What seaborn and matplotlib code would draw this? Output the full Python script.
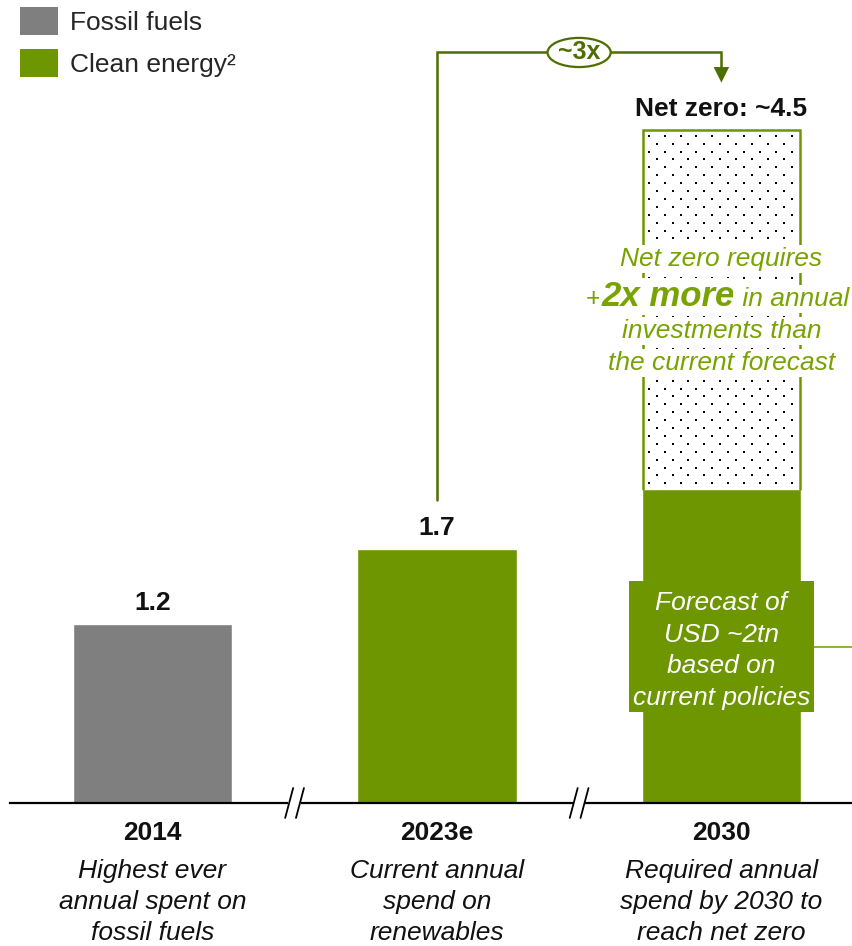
import matplotlib
matplotlib.use("Agg")
import matplotlib.pyplot as plt
import matplotlib.transforms as mtransforms
from matplotlib.patches import Patch, Rectangle, Ellipse, FancyArrowPatch
import numpy as np
import seaborn as sns
import pandas as pd

# ---- data -------------------------------------------------------------
years = ["2014", "2023e", "2030"]
series = ["Fossil fuels", "Clean energy", "Clean energy"]
spend = [1.2, 1.7, 2.1]            # USD tn per year (forecast for 2030)
net_zero_2030 = 4.5                # USD tn per year required for net zero
value_labels = ["1.2", "1.7", "Net zero: ~4.5"]
descriptions = [
    "Highest ever\nannual spent on\nfossil fuels",
    "Current annual\nspend on\nrenewables",
    "Required annual\nspend by 2030 to\nreach net zero",
]
multiplier_label = "~3x"
forecast_note = "Forecast of\nUSD ~2tn\nbased on\ncurrent policies"

# ---- style ------------------------------------------------------------
GRAY = "#7F7F7F"
GREEN = "#6E9600"
TEXT_GREEN = "#78A300"
OLIVE = "#4F6E00"
LIGHT_GREEN = "#8DB33A"
FS = 19
BAR_W = 0.56

sns.set_theme(style="white")
plt.rcParams["font.family"] = ["Liberation Sans", "DejaVu Sans"]

fig = plt.figure(figsize=(8.52, 9.46), dpi=100)
W, H = 852, 946
ax = fig.add_axes([10 / W, 143 / H, 842 / W, 803 / H])

df = pd.DataFrame({"year": years, "spend": spend, "series": series})
sns.barplot(data=df, x="year", y="spend", hue="series",
            palette={"Fossil fuels": GRAY, "Clean energy": GREEN},
            width=BAR_W, dodge=False, legend=False, ax=ax, saturation=1)

XLIM, YLIM = (-0.5, 2.459), (0, 5.371)
ax.set_xlim(*XLIM)
ax.set_ylim(*YLIM)
for s in ["top", "right", "left"]:
    ax.spines[s].set_visible(False)
ax.spines["bottom"].set_color("black")
ax.spines["bottom"].set_linewidth(1.6)
ax.set_yticks([])
ax.set_ylabel("")
ax.set_xlabel("")
ax.tick_params(axis="x", length=0, pad=13)
ax.set_xticks(range(len(years)))
ax.set_xticklabels(years, fontsize=FS, fontweight="bold", color="#111111")

# dotted gap between forecast and net-zero requirement
gap_bottom = spend[2]
gap_height = net_zero_2030 - spend[2]
gap_bar = ax.bar(2, gap_height, bottom=gap_bottom, width=BAR_W, color="white",
                 linewidth=0, zorder=2)[0]

# staggered dot texture snapped to whole screen pixels inside the gap bar
x_lo, x_hi = 2 - BAR_W / 2, 2 + BAR_W / 2
(px0, py0), (px1, py1) = ax.transData.transform([(x_lo, gap_bottom),
                                                 (x_hi, net_zero_2030)])
row_step, col_step = 7.9, 15.9
dots = []
for r, py in enumerate(np.arange(py1 - 5.5, py0, -row_step)):
    start = px0 + 7 + (0 if r % 2 == 0 else col_step / 2)
    for px in np.arange(start, px1 - 2, col_step):
        dots.append((round(px), round(py)))
dots_data = ax.transData.inverted().transform(np.array(dots, dtype=float))
ax.scatter(dots_data[:, 0], dots_data[:, 1], marker="s", s=(2 * 72 / 100) ** 2,
           c="black", linewidths=0, zorder=2.5, clip_path=gap_bar)

ax.plot([x_lo + 0.004, x_lo + 0.004, x_hi - 0.004, x_hi - 0.004],
        [gap_bottom, net_zero_2030, net_zero_2030, gap_bottom],
        color=GREEN, lw=1.8, zorder=3, solid_joinstyle="miter")

# value labels above bars
tops = [spend[0], spend[1], net_zero_2030]
for i, (t, lab) in enumerate(zip(tops, value_labels)):
    ax.annotate(lab, xy=(i, t), xytext=(0, 9), textcoords="offset pixels",
                ha="center", va="bottom", fontsize=FS, fontweight="bold",
                color="#111111")

# italic descriptions under the year labels
for i, d in enumerate(descriptions):
    ax.annotate(d, xy=(i, 0), xytext=(0, -56), textcoords="offset pixels",
                ha="center", va="top", fontsize=FS, fontstyle="italic",
                color="#111111", linespacing=1.36, annotation_clip=False)

# axis break marks
for xb in [0.5, 1.5]:
    ax.add_patch(Rectangle((xb - 0.022, -0.03), 0.044, 0.06, color="white",
                           zorder=5, clip_on=False, lw=0))
    for dx in [-0.019, 0.019]:
        ax.plot([xb + dx - 0.014, xb + dx + 0.014], [-0.1, 0.1], color="black",
                lw=1.3, zorder=6, clip_on=False)

# ~3x connector from 2023e to the 2030 net-zero bar
y_conn = 5.02
ax.plot([1, 1, 2, 2], [2.03, y_conn, y_conn, 4.90], color=OLIVE, lw=1.8,
        zorder=4, solid_joinstyle="miter")
ax.add_patch(FancyArrowPatch((2, 4.93), (2, 4.80), arrowstyle="-|>",
                             mutation_scale=28, color=OLIVE, lw=0, zorder=4))
ax.add_patch(Ellipse((1.5, y_conn), 0.222, 0.195, facecolor="white",
                     edgecolor=OLIVE, lw=1.6, zorder=5))
ax.text(1.5, y_conn, multiplier_label, ha="center", va="center",
        fontsize=18, fontweight="bold", color=OLIVE, zorder=6)

# forecast call-out box on the 2030 bar
ax.add_patch(Rectangle((2 - 0.326, 0.609), 0.652, 0.876, facecolor=GREEN,
                       edgecolor="none", zorder=4))
ax.plot([2 + 0.326, 2.47], [1.043, 1.043], color=LIGHT_GREEN, lw=1.4,
        zorder=3, clip_on=False)
ax.text(2, 1.02, forecast_note, ha="center", va="center", fontsize=FS,
        fontstyle="italic", color="white", linespacing=1.39, zorder=5)

# net-zero note inside the dotted part
note_kw = dict(ha="center", va="center", fontsize=FS, fontstyle="italic",
               color=TEXT_GREEN, zorder=6,
               bbox=dict(facecolor="white", edgecolor="none", pad=1.5))
ax.text(2, 3.637, "Net zero requires", **note_kw)
ax.text(2, 3.157, "investments than", **note_kw)
ax.text(2, 2.943, "the current forecast", **note_kw)

# mixed-style line: "+2x more in annual"
pieces = [("+", dict(fontsize=FS, fontstyle="normal", fontweight="normal")),
          ("2x more", dict(fontsize=25, fontstyle="italic", fontweight="bold")),
          (" in annual", dict(fontsize=FS, fontstyle="italic", fontweight="normal"))]
fig.canvas.draw()
renderer = fig.canvas.get_renderer()
objs = []
for txt, kw in pieces:
    t = ax.text(2, 3.385, txt, ha="left", va="baseline", color=TEXT_GREEN,
                zorder=6, bbox=dict(facecolor="white", edgecolor="none", pad=1.5),
                **kw)
    objs.append(t)
widths = [o.get_window_extent(renderer).width for o in objs]
total = sum(widths)
x0 = -total / 2 - 4
for o, w in zip(objs, widths):
    o.set_transform(mtransforms.offset_copy(ax.transData, fig=fig, x=x0, y=-9,
                                            units="dots"))
    x0 += w

# legend
handles = [Patch(facecolor=GRAY, edgecolor="none", label="Fossil fuels"),
           Patch(facecolor=GREEN, edgecolor="none", label="Clean energy²")]
fig.legend(handles=handles, loc="upper left", bbox_to_anchor=(20 / W, 1 - 7 / H),
           frameon=False, fontsize=FS, handlelength=1.44, handleheight=1.28,
           handletextpad=0.45, labelspacing=0.5, borderpad=0, borderaxespad=0)

fig.savefig("out.png", dpi=100)
